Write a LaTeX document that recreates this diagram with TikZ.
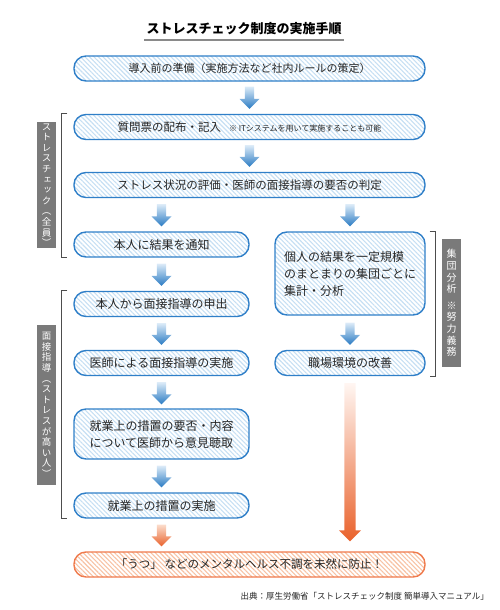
\documentclass[tikz,border=0pt]{standalone}
\usepackage{fontspec}
\setmainfont{Noto Sans CJK JP}
\newfontfamily\vfont[RawFeature=+vert]{Noto Sans CJK JP}
\usetikzlibrary{patterns.meta,calc}
\definecolor{bblue}{HTML}{2F7FC8}
\definecolor{sblue}{HTML}{C6DFF3}
\definecolor{ablueT}{HTML}{DCEBF8}
\definecolor{ablueB}{HTML}{2A7BC3}
\definecolor{borange}{HTML}{EF7A4C}
\definecolor{sorange}{HTML}{F7C2A4}
\definecolor{aorT}{HTML}{FBDCCB}
\definecolor{aorB}{HTML}{E9622C}
\definecolor{aorTT}{HTML}{FFF6F2}
\definecolor{gbx}{HTML}{7A7A7A}
\definecolor{brk}{HTML}{4D4D4D}
\definecolor{txt}{HTML}{262626}
\definecolor{ulgray}{HTML}{8A8A8A}
\newcommand\barrow[7]{% top, bottom, shaft half, head half, head height, top colour, bottom colour
  \shade[top color=#6,bottom color=#7]
    ($(#1)+(-#3,0)$) -- ($(#1)+(#3,0)$) -- ($(#2)+(#3,-#5)$) -- ($(#2)+(#4,-#5)$)
    -- (#2) -- ($(#2)+(-#4,-#5)$) -- ($(#2)+(-#3,-#5)$) -- cycle;}
\begin{document}
\begin{tikzpicture}[x=1pt,y=-1pt,
  boxb/.style={draw=bblue, line width=1.4pt, rounded corners=12pt,
    pattern={Lines[angle=-45,distance=3.2pt,line width=1.1pt]}, pattern color=sblue,
    minimum height=25pt, inner sep=0pt, text=txt, font=\fontsize{11}{17}\selectfont},
  boxo/.style={boxb, draw=borange, pattern color=sorange},
  wide/.style={minimum width=351pt},
  half/.style={minimum width=175pt, font=\fontsize{12}{17}\selectfont},
  rhalf/.style={minimum width=150pt, font=\fontsize{12}{17}\selectfont},
  gbox/.style={fill=gbx, text=white, minimum width=19pt, inner sep=0pt, align=center,
    font=\vfont\fontsize{9.5}{10.6}\selectfont},
  brkline/.style={draw=brk, line width=1.1pt},
]
\useasboundingbox (0,0) rectangle (500,610);

% title
\node[inner sep=0pt, text=black, font=\bfseries\fontsize{13}{15}\selectfont] (title) at (244,29) {ストレスチェック制度の実施手順};
\draw[ulgray, line width=2pt] ($(title.south west)+(-2,5)$) -- ($(title.south east)+(2,5)$);

% boxes
\node[boxb, wide] (n1) at (249.5,68.5) {導入前の準備（実施方法など社内ルールの策定）};
\node[boxb, wide] (n2) at (249.5,127) {{\fontsize{11.5}{14}\selectfont 質問票の配布・記入}\hspace{8pt}{\fontsize{8}{10}\selectfont ※ ITシステムを用いて実施することも可能}};
\node[boxb, wide, font=\fontsize{11.5}{14}\selectfont] (n3) at (249.5,185) {ストレス状況の評価・医師の面接指導の要否の判定};
\node[boxb, half] (l1) at (161.5,244.5) {本人に結果を通知};
\node[boxb, rhalf, minimum height=83pt, align=left] (r1) at (350,273.5) {個人の結果を一定規模\\のまとまりの集団ごとに\\集計・分析};
\node[boxb, half] (l2) at (161.5,304) {本人から面接指導の申出};
\node[boxb, half] (l3) at (161.5,363) {医師による面接指導の実施};
\node[boxb, rhalf] (r2) at (350,363) {職場環境の改善};
\node[boxb, half, minimum height=50pt, align=left] (l4) at (161.5,434) {就業上の措置の要否・内容\\について医師から意見聴取};
\node[boxb, half] (l5) at (161.5,505.5) {就業上の措置の実施};
\node[boxo, wide, font=\fontsize{11.5}{14}\selectfont] (fin) at (249.5,564.5) {「うつ」 などのメンタルヘルス不調を未然に防止！};

% arrow end points
\coordinate (a1t) at ($(n1.south)+(0,5)$);  \coordinate (a1b) at ($(n2.north)+(0,-5)$);
\coordinate (a2t) at ($(n2.south)+(0,5)$);  \coordinate (a2b) at ($(n3.north)+(0,-5)$);
\coordinate (a3t) at ($(n3.south -| l1.north)+(0,6)$);  \coordinate (a3b) at ($(l1.north)+(0,-5)$);
\coordinate (a4t) at ($(n3.south -| r1.north)+(0,6)$);  \coordinate (a4b) at ($(r1.north)+(0,-5)$);
\coordinate (a5t) at ($(l1.south)+(0,6)$);  \coordinate (a5b) at ($(l2.north)+(0,-5)$);
\coordinate (a6t) at ($(l2.south)+(0,6)$);  \coordinate (a6b) at ($(l3.north)+(0,-5)$);
\coordinate (a7t) at ($(r1.south)+(0,7)$);  \coordinate (a7b) at ($(r2.north)+(0,-5)$);
\coordinate (a8t) at ($(l3.south)+(0,6)$);  \coordinate (a8b) at ($(l4.north)+(0,-4)$);
\coordinate (a9t) at ($(l4.south)+(0,6)$);  \coordinate (a9b) at ($(l5.north)+(0,-5)$);
\coordinate (a10t) at ($(l5.south)+(0,6)$); \coordinate (a10b) at ($(fin.north -| l5.south)+(0,-5)$);
\coordinate (a11t) at ($(r2.south)+(0,7)$); \coordinate (a11b) at ($(fin.north -| r2.south)+(0,-10)$);

\foreach \a in {1,...,9}{\barrow{a\a t}{a\a b}{4.7}{10}{10}{ablueT}{ablueB}}
\barrow{a10t}{a10b}{4.7}{10}{10}{aorT}{aorB}
\barrow{a11t}{a11b}{5.6}{11}{11}{aorTT}{aorB}

% brackets
\draw[brkline] ($(n2.north west)+(-6,0)$) -- ++(-6,0) |- ($(l1.south west)+(-6,0)$);
\draw[brkline] ($(l2.north west)+(-6,0)$) -- ++(-6,0) |- ($(l5.south west)+(-6,0)$);
\draw[brkline] ($(r1.north east)+(4,0)$) -- ++(6,0) |- ($(r2.south east)+(4,0)$);

% side labels
\node[gbox, minimum height=126pt] (g1) at (46.5,185) {ス\\ト\\レ\\ス\\チ\\ェ\\ッ\\ク\\（\\全\\員\\）};
\node[gbox, minimum height=160pt] (g2) at (46.5,405) {面\\接\\指\\導\\（\\ス\\ト\\レ\\ス\\が\\高\\い\\人\\）};
\node[gbox, minimum height=128pt, font=\vfont\fontsize{10}{11.6}\selectfont] (g3) at (451.5,303) {集\\団\\分\\析\\[5pt]※\\努\\力\\義\\務};

% source
\node[anchor=east, inner sep=0pt, text=txt, font=\fontsize{8.5}{10}\selectfont] (src) at (489,596) {出典：厚生労働省「ストレスチェック制度\ 簡単導入マニュアル」};
\end{tikzpicture}
\end{document}
